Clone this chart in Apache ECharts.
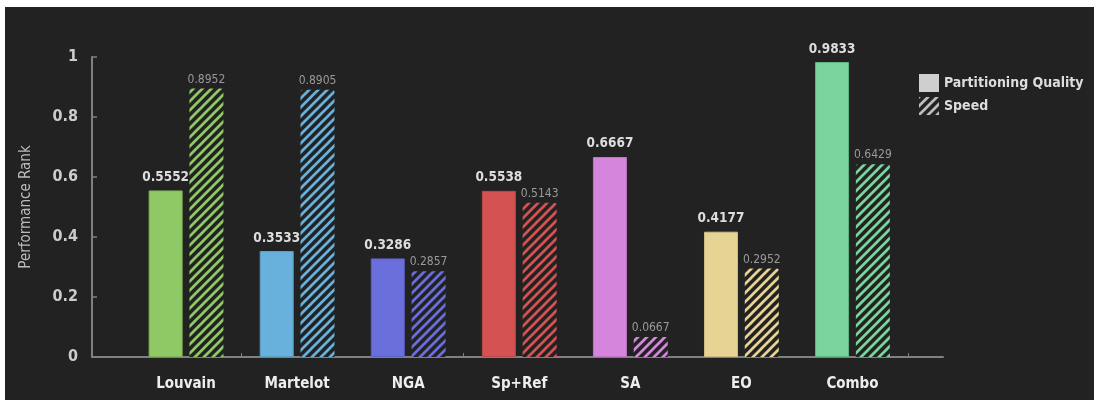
<!DOCTYPE html>
<html>
<head>
<meta charset="utf-8">
<script src="https://cdn.jsdelivr.net/npm/echarts@6/dist/echarts.min.js"></script>
<style>
  html, body { margin: 0; padding: 0; background: #ffffff; }
  #chart { position: absolute; left: 5px; top: 7px; width: 1089px; height: 393px; }
</style>
</head>
<body>
<div id="chart"></div>
<script>
// Algorithms compared
const categories = ['Louvain', 'Martelot', 'NGA', 'Sp+Ref', 'SA', 'EO', 'Combo'];
// Performance rank per metric
const qualityValues = [0.5552, 0.3533, 0.3286, 0.5538, 0.6667, 0.4177, 0.9833];
const speedValues = [0.8952, 0.8905, 0.2857, 0.5143, 0.0667, 0.2952, 0.6429];
// One colour per algorithm
const barColors = ['#8fc965', '#67b1dc', '#6b6fdc', '#d45252', '#d585dc', '#e7d494', '#79d49d'];
const borderColors = ['#7fb558', '#5a9dc5', '#5e62c4', '#bd4848', '#be76c4', '#cfbd84', '#5fb683'];
const yTicks = [0, 0.2, 0.4, 0.6, 0.8, 1];

const FONT = "'DejaVu Sans Condensed', 'Roboto', sans-serif";
const BG = '#222222';

// Diagonal stripe fill for the hatched bars
function stripes(color) {
  const s = 9;
  const c = document.createElement('canvas');
  c.width = s; c.height = s;
  const g = c.getContext('2d');
  g.fillStyle = BG;
  g.fillRect(0, 0, s, s);
  g.strokeStyle = color;
  g.lineWidth = 2.7;
  g.lineCap = 'square';
  g.beginPath();
  g.moveTo(-2, s + 2); g.lineTo(s + 2, -2);
  g.moveTo(-2, 2); g.lineTo(2, -2);
  g.moveTo(s - 2, s + 2); g.lineTo(s + 2, s - 2);
  g.stroke();
  return { image: c, repeat: 'repeat' };
}

const chart = echarts.init(document.getElementById('chart'), null, { renderer: 'canvas' });

const qualityData = qualityValues.map((v, i) => ({
  value: v,
  itemStyle: { color: barColors[i], borderColor: borderColors[i], borderWidth: 1 }
}));
const speedData = speedValues.map((v, i) => ({
  value: v,
  itemStyle: { color: stripes(barColors[i]) }
}));

const yRange = { min: yTicks[0], max: yTicks[yTicks.length - 1], interval: 0.2 };

chart.setOption({
  backgroundColor: BG,
  animation: false,
  textStyle: { fontFamily: FONT },
  grid: [
    { left: 87, right: 151, top: 50, bottom: 43 },
    { left: 125.5, right: 186, top: 50, bottom: 43 }
  ],
  legend: {
    orient: 'vertical',
    left: 909,
    top: 62,
    itemWidth: 20,
    itemHeight: 18,
    itemGap: 5,
    icon: 'rect',
    textStyle: { color: '#dddddd', fontSize: 14, fontWeight: 'bold', fontFamily: FONT },
    data: ['Partitioning Quality', 'Speed']
  },
  xAxis: [
    {
      gridIndex: 0, type: 'value', min: 0, max: 1,
      axisLine: { show: true, lineStyle: { color: '#808080', width: 2 } },
      axisTick: { show: false }, axisLabel: { show: false }, splitLine: { show: false }
    },
    {
      gridIndex: 1, type: 'category', data: categories, boundaryGap: true,
      axisLine: { show: false },
      axisTick: {
        show: true, inside: true, length: 4,
        interval: (idx) => idx === 1 || idx === 3,
        lineStyle: { color: '#808080', width: 1 }
      },
      axisLabel: { color: '#eeeeee', fontSize: 15, fontWeight: 'bold', margin: 20, fontFamily: FONT },
      splitLine: { show: false }
    }
  ],
  yAxis: [
    {
      gridIndex: 0, type: 'value', ...yRange,
      name: 'Performance Rank', nameLocation: 'middle', nameGap: 58,
      nameTextStyle: { color: '#bbbbbb', fontSize: 15, fontFamily: FONT },
      axisLine: { show: true, lineStyle: { color: '#808080', width: 2 } },
      axisTick: { show: true, inside: true, length: 5, lineStyle: { color: '#808080', width: 1.5 } },
      axisLabel: { color: '#cccccc', fontSize: 16, fontWeight: 'bold', margin: 14, fontFamily: FONT },
      splitLine: { show: false }
    },
    {
      gridIndex: 1, type: 'value', ...yRange, show: false,
      splitLine: { show: false }
    }
  ],
  series: [
    {
      name: 'Partitioning Quality', type: 'bar',
      xAxisIndex: 1, yAxisIndex: 1,
      barWidth: 34, barGap: '20%',
      itemStyle: { color: '#cfcfcf' },
      label: {
        show: true, position: 'top', distance: 6,
        color: '#dddddd', fontSize: 13.5, fontWeight: 'bold', fontFamily: FONT,
        formatter: (p) => p.value.toFixed(4)
      },
      data: qualityData
    },
    {
      name: 'Speed', type: 'bar',
      xAxisIndex: 1, yAxisIndex: 1,
      barWidth: 34, barGap: '20%',
      itemStyle: { color: stripes('#bdbdbd'), borderRadius: [2, 2, 0, 0] },
      label: {
        show: true, position: 'top', distance: 3,
        color: '#9a9a9a', fontSize: 12, fontFamily: FONT,
        formatter: (p) => p.value.toFixed(4)
      },
      data: speedData
    }
  ]
});
</script>
</body>
</html>
